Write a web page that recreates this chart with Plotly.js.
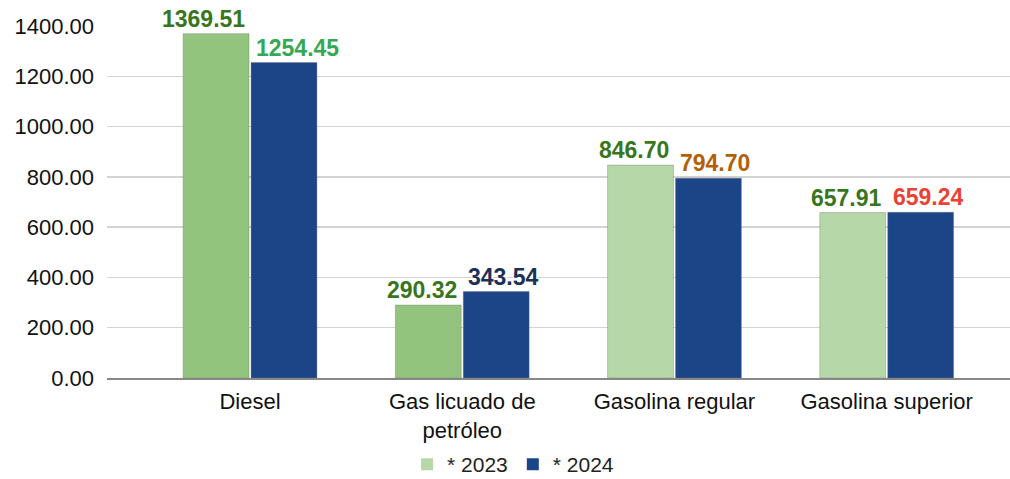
<!DOCTYPE html>
<html>
<head>
<meta charset="utf-8">
<script src="https://cdn.plot.ly/plotly-3.0.1.min.js"></script>
<style>html,body{margin:0;padding:0;background:#fff;}#chart{width:1010px;height:479px;}</style>
</head>
<body>
<div id="chart"></div>
<script>
var categories = ["Diesel", "Gas licuado de<br>petróleo", "Gasolina regular", "Gasolina superior"];
var values2023 = [1369.51, 290.32, 846.70, 657.91];
var values2024 = [1254.45, 343.54, 794.70, 659.24];
var colors2023 = ["#93c47d", "#93c47d", "#b6d7a8", "#b6d7a8"];
var colors2024 = ["#1c4587", "#1c4587", "#1c4587", "#1c4587"];
var labelColors2023 = ["#38761d", "#38761d", "#38761d", "#38761d"];
var labelColors2024 = ["#34a853", "#1b3157", "#b45f06", "#ea4335"];
var seriesNames = ["* 2023", "* 2024"];
var legendColors = ["#b6d7a8", "#1c4587"];
var yTicks = [0, 200, 400, 600, 800, 1000, 1200, 1400];

var halo = "1px 1px 0 #fff, -1px -1px 0 #fff, 1px -1px 0 #fff, -1px 1px 0 #fff";
function fmt(v){ return v.toFixed(2); }
var FONT = "Liberation Sans, Arial, sans-serif";

var traces = [
  {
    type: "bar", x: categories, y: values2023, name: seriesNames[0], showlegend: false,
    marker: {color: colors2023, line: {color: "rgba(110,110,110,0.35)", width: 1}},
    hoverinfo: "none"
  },
  {
    type: "bar", x: categories, y: values2024, name: seriesNames[1], showlegend: false,
    marker: {color: colors2024, line: {color: "rgba(110,110,110,0.35)", width: 1}},
    hoverinfo: "none"
  },
  {
    type: "scatter", mode: "markers", x: [null], y: [null], name: seriesNames[0],
    marker: {symbol: "square", size: 12, color: legendColors[0]}
  },
  {
    type: "scatter", mode: "markers", x: [null], y: [null], name: seriesNames[1],
    marker: {symbol: "square", size: 12, color: legendColors[1]}
  }
];

// value labels: 2023 label ends just left of the category centre, 2024 label starts just right of it
var annotations = [];
categories.forEach(function(c, i){
  annotations.push({
    x: c, y: values2023[i], xref: "x", yref: "y", text: fmt(values2023[i]),
    showarrow: false, xanchor: "right", yanchor: "bottom", xshift: -3, yshift: 0,
    font: {family: FONT, size: 23, weight: 700, color: labelColors2023[i], shadow: halo}
  });
  annotations.push({
    x: c, y: values2024[i], xref: "x", yref: "y", text: fmt(values2024[i]),
    showarrow: false, xanchor: "left", yanchor: "bottom", xshift: 4, yshift: 0,
    font: {family: FONT, size: 23, weight: 700, color: labelColors2024[i], shadow: halo}
  });
});

var layout = {
  width: 1010, height: 479,
  margin: {l: 107, r: 0, t: 26, b: 101, pad: 0},
  paper_bgcolor: "#fff", plot_bgcolor: "#fff",
  barmode: "group", bargap: 0.36, bargroupgap: 0.03,
  font: {family: FONT, color: "#222"},
  xaxis: {
    type: "category", range: [-0.674, 3.581], showgrid: false,
    showline: true, linecolor: "#888", linewidth: 1.5,
    ticks: "", tickfont: {size: 22, color: "#111"}, ticklabelstandoff: 3,
    fixedrange: true
  },
  yaxis: {
    range: [0, 1400], tickvals: yTicks, ticktext: yTicks.map(fmt),
    showgrid: true, gridcolor: "#d3d3d3", gridwidth: 1.3,
    zeroline: false, showline: false,
    ticks: "", tickfont: {size: 22, color: "#111"}, ticklabelstandoff: 12,
    fixedrange: true
  },
  annotations: annotations,
  showlegend: true,
  legend: {
    orientation: "h", xref: "container", yref: "container",
    x: 0.508, xanchor: "center", y: 0.03, yanchor: "middle",
    font: {size: 21, color: "#222"}, itemwidth: 30, tracegroupgap: 0
  }
};

Plotly.newPlot("chart", traces, layout, {staticPlot: true, displayModeBar: false});
</script>
</body>
</html>
